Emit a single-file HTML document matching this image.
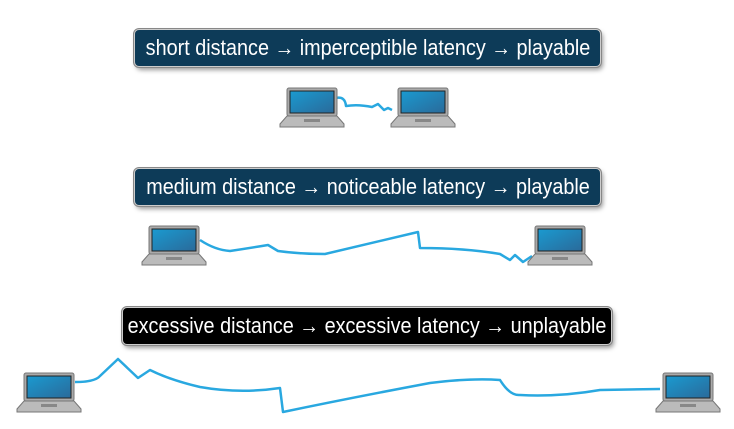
<!DOCTYPE html>
<html><head><style>
body{margin:0;width:734px;height:429px;background:#fff;position:relative;overflow:hidden;font-family:"Liberation Sans",sans-serif}
.b{position:absolute;height:36px;border:1px solid #ccc;border-radius:5px;color:#fff;font-size:22px;line-height:36px;box-shadow:0 0 0 1px #888,2px 3px 5px rgba(0,0,0,.4);white-space:nowrap}
.b span{position:absolute;left:50%;top:0;transform:translateX(-50%) scaleX(0.9);transform-origin:center}
</style></head><body>
<div class="b" style="left:134px;top:29px;width:465px;background:#0d3b58"><span>short distance → imperceptible latency → playable</span></div>
<div class="b" style="left:134px;top:168px;width:465px;background:#0d3b58"><span>medium distance → noticeable latency → playable</span></div>
<div class="b" style="left:122px;top:307px;width:488px;background:#000"><span>excessive distance → excessive latency → unplayable</span></div>
<svg width="734" height="429" style="position:absolute;left:0;top:0">
<defs>
<linearGradient id="s" x1="0" y1="0" x2="1" y2="1"><stop offset="0" stop-color="#1a9ad0"/><stop offset="1" stop-color="#2a6a9a"/></linearGradient>
<g id="L">
<rect x="7" y="0" width="50" height="28" rx="2" fill="#aaa" stroke="#777"/>
<rect x="10" y="3" width="44" height="22" fill="url(#s)" stroke="#222" stroke-width="1"/>
<path d="M7 28 H57 L64 36 V39 H0 V36 Z" fill="#bbb" stroke="#777"/>
<rect x="24" y="31" width="16" height="3" fill="#888"/>
</g>
</defs>
<g fill="none" stroke="#29a8e0" stroke-width="2.5" stroke-linejoin="round">
<path d="M336 98 Q345 96 346 106 Q358 104 372 107 L378 104 L384 110 L388 108 L392 110"/>
<path d="M200 240 Q215 250 230 251 Q250 248 268 245 L278 251 Q300 254 325 254 L418 232 L420 248 Q465 248 500 254 L510 260 L515 255 L523 262 L532 256"/>
<path d="M75 382 Q95 382 100 376 L118 359 L138 378 L150 370 Q170 380 200 387 Q240 394 280 388 L283 412 Q350 398 430 383 Q470 378 500 380 Q510 396 520 395 Q560 397 600 390 L660 389"/>
</g>
<use href="#L" x="280" y="88"/><use href="#L" x="391" y="88"/>
<use href="#L" x="142" y="226"/><use href="#L" x="528" y="226"/>
<use href="#L" x="17" y="373"/><use href="#L" x="656" y="373"/>
</svg>
</body></html>
